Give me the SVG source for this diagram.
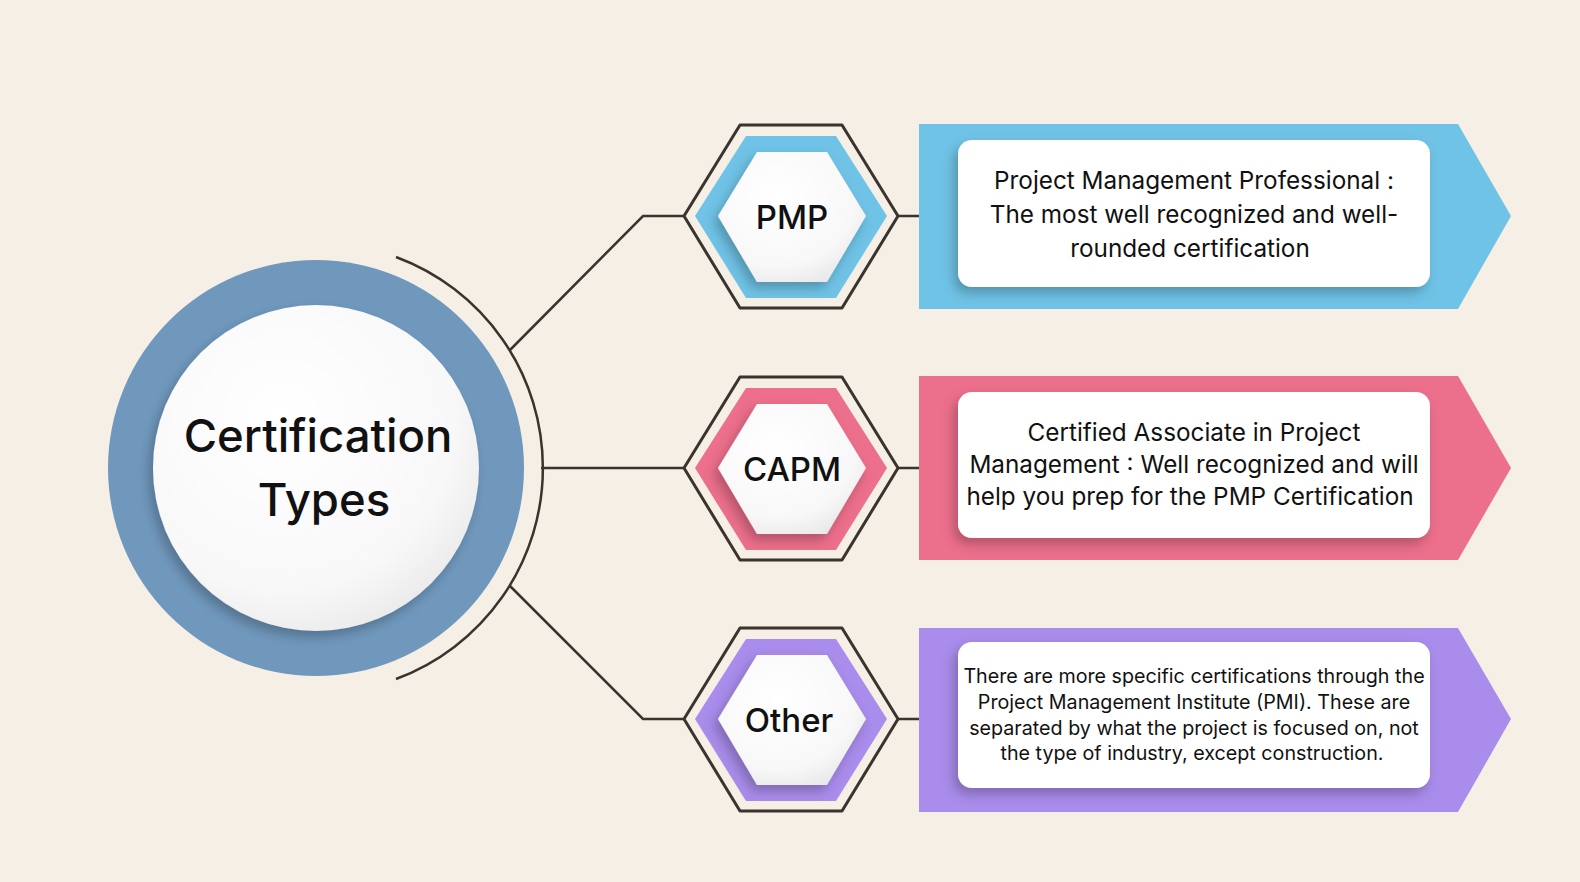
<svg xmlns="http://www.w3.org/2000/svg" width="1580" height="882" viewBox="0 0 1580 882">
<defs>
<style>
text{font-family:Inter,"Noto Sans",sans-serif;fill:#111;text-anchor:middle}
.ln{fill:none;stroke:#3a332e;stroke-width:2.5}
.hx{fill:#f5efe6;stroke:#3a332e;stroke-width:3;stroke-linejoin:round}
.wb{fill:#fff}
.lab{font-size:33px;font-weight:500}
.d{font-size:24.3px}
.s{font-size:19.7px}
</style>
<filter id="sh" x="-20%" y="-20%" width="140%" height="150%"><feDropShadow dx="-4" dy="6" stdDeviation="6" flood-color="#000" flood-opacity="0.25"/></filter>
<radialGradient id="wg" cx="0.4" cy="0.35" r="0.75"><stop offset="0" stop-color="#fff"/><stop offset="0.7" stop-color="#f8f8f8"/><stop offset="1" stop-color="#e6e6e6"/></radialGradient>
</defs>
<rect width="1580" height="882" fill="#f5efe6"/>
<g id="connectors">
<path class="ln" d="M396 257 A225 225 0 0 1 396 679"/>
<path class="ln" d="M510 350 L643 216 L684 216"/>
<path class="ln" d="M541 468 L684 468"/>
<path class="ln" d="M510 586 L643 719 L684 719"/>
<path class="ln" d="M898 216 L919 216 M898 468 L919 468 M898 719 L919 719"/>
</g>
<g id="center">
<circle cx="316" cy="468" r="208" fill="#7098bd"/>
<circle cx="316" cy="468" r="163" fill="url(#wg)" filter="url(#sh)"/>
<text x="318" y="452" style="font-size:45.5px;font-weight:500">Certification</text>
<text x="324" y="516" style="font-size:45.5px;font-weight:500">Types</text>
</g>
<g id="pmp">
<path class="hx" d="M684 216 L740 125 L842 125 L898 216 L842 308 L740 308 Z"/>
<path d="M695 216 L746 136 L836 136 L887 216 L836 298 L746 298 Z" fill="#6fc3e6"/>
<path d="M718 216 L757 152 L827 152 L866 216 L827 282 L757 282 Z" fill="url(#wg)" filter="url(#sh)"/>
<text class="lab" x="792" y="229">PMP</text>
<path d="M919 124 L1458 124 L1511 216 L1458 309 L919 309 Z" fill="#6fc3e6"/>
<rect class="wb" x="958" y="140" width="472" height="147" rx="14" filter="url(#sh)"/>
<text class="d" x="1194" y="189">Project Management Professional :</text>
<text class="d" x="1194" y="223">The most well recognized and well-</text>
<text class="d" x="1190" y="257">rounded certification</text>
</g>
<g id="capm">
<path class="hx" d="M684 468 L740 377 L842 377 L898 468 L842 560 L740 560 Z"/>
<path d="M695 468 L746 388 L836 388 L887 468 L836 550 L746 550 Z" fill="#ec6f8b"/>
<path d="M718 468 L757 404 L827 404 L866 468 L827 534 L757 534 Z" fill="url(#wg)" filter="url(#sh)"/>
<text class="lab" x="792" y="481">CAPM</text>
<path d="M919 376 L1458 376 L1511 468 L1458 560 L919 560 Z" fill="#ec6f8b"/>
<rect class="wb" x="958" y="392" width="472" height="146" rx="14" filter="url(#sh)"/>
<text class="d" x="1194" y="441">Certified Associate in Project</text>
<text class="d" x="1194" y="473">Management : Well recognized and will</text>
<text class="d" x="1190" y="505">help you prep for the PMP Certification</text>
</g>
<g id="other">
<path class="hx" d="M684 719 L740 628 L842 628 L898 719 L842 811 L740 811 Z"/>
<path d="M695 719 L746 639 L836 639 L887 719 L836 801 L746 801 Z" fill="#a98ceb"/>
<path d="M718 719 L757 655 L827 655 L866 719 L827 785 L757 785 Z" fill="url(#wg)" filter="url(#sh)"/>
<text class="lab" x="789" y="732">Other</text>
<path d="M919 628 L1458 628 L1511 719 L1458 812 L919 812 Z" fill="#a98ceb"/>
<rect class="wb" x="958" y="642" width="472" height="146" rx="14" filter="url(#sh)"/>
<text class="s" x="1194" y="683">There are more specific certifications through the</text>
<text class="s" x="1194" y="709">Project Management Institute (PMI). These are</text>
<text class="s" x="1194" y="735">separated by what the project is focused on, not</text>
<text class="s" x="1192" y="760">the type of industry, except construction.</text>
</g>
</svg>
